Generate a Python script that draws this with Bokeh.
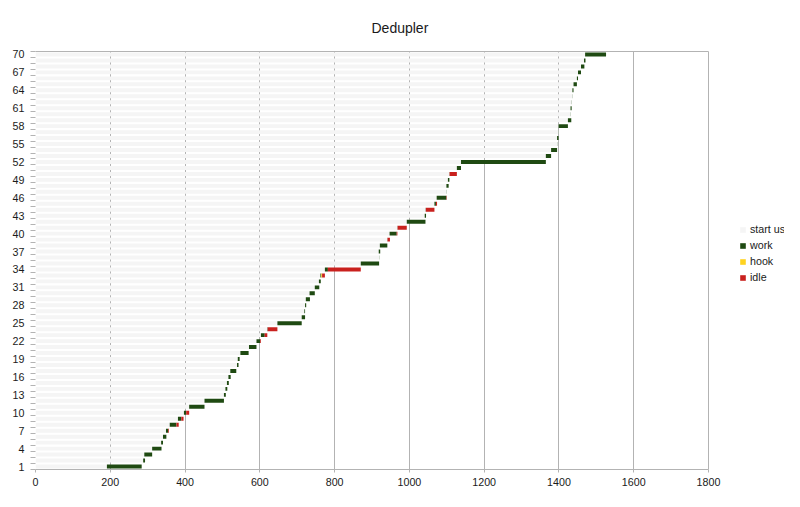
from bokeh.plotting import figure
from bokeh.models import (ColumnDataSource, Range1d, FixedTicker, Legend, LegendItem, Span, LinearAxis)
from bokeh.embed import file_html
from bokeh.resources import INLINE

title_text = "Dedupler"
series_names = ["start us", "work", "hook", "idle"]
series_colors = ["#f5f5f5", "#1f4a12", "#ffd320", "#c9211e"]

rows = list(range(1, 71))
start_us = [191, 288, 291, 312, 336, 341, 349, 359, 381, 397,
            411, 452, 504, 508, 512, 516, 521, 539, 541, 548,
            571, 591, 603, 620, 647, 712, 719, 721, 723, 733,
            747, 758, 762, 774, 870, 919, 918, 921, 941, 947,
            968, 993, 1041, 1043.5, 1067, 1073, 1099, 1099, 1103, 1107,
            1127, 1138, 1365, 1379, 1395, 1395, 1399, 1399, 1424, 1431,
            1431, 1434, 1435, 1436, 1439, 1448, 1451, 1459, 1467, 1470]
work = [93, 5, 21, 25, 5, 9, 6, 18, 9, 6,
        41, 52, 5, 5, 5, 6, 16, 4, 5, 22,
        20, 10, 10, 1, 65, 9, 2, 3, 11, 14,
        12, 5, 2.5, 8, 49, 0.5, 4, 20, 0.5, 19,
        0.5, 50, 3.5, 0.5, 4, 26, 0.5, 6, 4, 0.5,
        11, 227, 14, 16, 0.5, 4, 0.5, 25, 9, 0.5,
        3, 0.5, 0.5, 3, 9, 3, 8, 9, 4, 56]
hook = [0] * 70
hook[32] = 2
idle = [0] * 70
idle_values = {7: 2, 8: 6, 9: 6, 10: 8, 22: 2, 23: 7, 24: 26, 33: 7.5, 34: 88,
               39: 6.5, 40: 2, 41: 24.5, 44: 23, 45: 3, 46: 1, 50: 19.5}
for r, v in idle_values.items():
    idle[r - 1] = v

x_ticks = [0, 200, 400, 600, 800, 1000, 1200, 1400, 1600, 1800]
x_max = 1800
y_tick_labels = list(range(1, 71, 3))

source = ColumnDataSource(dict(row=rows, start=start_us, work=work, hook=hook, idle=idle))

FONT = "Liberation Sans"
GRID = "#b3b3b3"
TXT = "#1a1a1a"

# frame: x=0 at 35px, x=1800 at 708px; frame continues to canvas edge for the legend
W, H = 784, 491
LEFT, AXIS_END = 35, 708
x_end = x_max * (W - LEFT) / (AXIS_END - LEFT)

p = figure(width=W, height=H, output_backend="svg", toolbar_location=None,
           x_range=Range1d(0, x_end), y_range=Range1d(0.5, 70.5),
           min_border_left=LEFT, min_border_right=0, min_border_top=51, min_border_bottom=22)
p.outline_line_color = None

renderers = p.hbar_stack(["start", "work", "hook", "idle"], y="row", height=0.66,
                         color=series_colors, line_width=0, source=source)

# axes
p.xaxis.bounds = (0, x_max)
p.xaxis.ticker = FixedTicker(ticks=x_ticks)
p.xaxis.axis_line_color = GRID
p.xaxis.major_tick_line_color = GRID
p.xaxis.major_tick_out = 3
p.xaxis.major_tick_in = 0
p.xaxis.minor_tick_out = 0
p.xaxis.minor_tick_in = 0
p.xaxis.major_label_standoff = 5
p.xaxis.major_label_text_font = FONT
p.xaxis.major_label_text_font_size = "10.7px"
p.xaxis.major_label_text_color = TXT

top_axis = LinearAxis(bounds=(0, x_max), ticker=FixedTicker(ticks=[]), axis_line_color=GRID,
                      major_tick_out=0, major_tick_in=0, minor_tick_out=0, minor_tick_in=0,
                      major_label_standoff=0, major_label_text_font_size="0px")
p.add_layout(top_axis, "above")

minor = [i + 0.5 for i in range(0, 71)]
p.yaxis.ticker = FixedTicker(ticks=y_tick_labels, minor_ticks=minor)
p.yaxis.axis_line_color = None
p.yaxis.major_tick_out = 0
p.yaxis.major_tick_in = 0
p.yaxis.minor_tick_out = 5
p.yaxis.minor_tick_in = 0
p.yaxis.minor_tick_line_color = GRID
p.yaxis.major_label_standoff = 6
p.yaxis.major_label_text_font = FONT
p.yaxis.major_label_text_font_size = "10.7px"
p.yaxis.major_label_text_color = TXT

p.xgrid.ticker = FixedTicker(ticks=x_ticks)
p.xgrid.grid_line_color = GRID
p.ygrid.grid_line_color = None

p.add_layout(Span(location=x_max, dimension="height", line_color=GRID, line_width=1))

p.title.text = title_text
p.title.text_font = FONT
p.title.text_font_size = "14px"
p.title.text_font_style = "normal"
p.title.text_color = TXT
p.title.align = "left"
p.title.offset = 336
p.title.vertical_align = "top"
p.title.standoff = 28

legend = Legend(items=[LegendItem(label=n, renderers=[r]) for n, r in zip(series_names, renderers)],
                location=(704, 184), orientation="vertical",
                glyph_width=7, glyph_height=7, label_height=16, label_standoff=4,
                spacing=0, padding=0, margin=0, border_line_color=None,
                background_fill_alpha=0,
                label_text_font=FONT, label_text_font_size="10.7px", label_text_color=TXT)
p.add_layout(legend)

open("out.html", "w").write(file_html(p, INLINE))
